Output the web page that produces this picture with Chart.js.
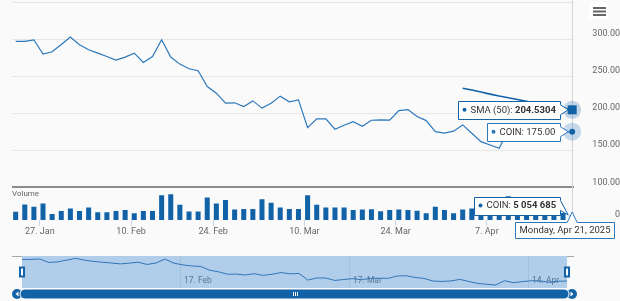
<!DOCTYPE html>
<html>
<head>
<meta charset="utf-8">
<script src="https://cdn.jsdelivr.net/npm/chart.js@4.4.1/dist/chart.umd.min.js"></script>
<style>
  html, body { margin: 0; padding: 0; background: #fafafa; }
  #wrap { position: relative; width: 620px; height: 301px; overflow: hidden; }
  #main { position: absolute; left: 0; top: 0; }
  #nav { position: absolute; left: 0; top: 245px; }
</style>
</head>
<body>
<div id="wrap">
  <canvas id="main" width="620" height="245"></canvas>
  <canvas id="nav" width="620" height="56"></canvas>
</div>
<script>
// ── Data ────────────────────────────────────────────────
const dates = [
  '2025-01-22', '2025-01-23', '2025-01-24', '2025-01-27', '2025-01-28', '2025-01-29', '2025-01-30', '2025-01-31',
  '2025-02-03', '2025-02-04', '2025-02-05', '2025-02-06', '2025-02-07',
  '2025-02-10', '2025-02-11', '2025-02-12', '2025-02-13', '2025-02-14',
  '2025-02-18', '2025-02-19', '2025-02-20', '2025-02-21',
  '2025-02-24', '2025-02-25', '2025-02-26', '2025-02-27', '2025-02-28',
  '2025-03-03', '2025-03-04', '2025-03-05', '2025-03-06', '2025-03-07',
  '2025-03-10', '2025-03-11', '2025-03-12', '2025-03-13', '2025-03-14',
  '2025-03-17', '2025-03-18', '2025-03-19', '2025-03-20', '2025-03-21',
  '2025-03-24', '2025-03-25', '2025-03-26', '2025-03-27', '2025-03-28',
  '2025-03-31', '2025-04-01', '2025-04-02', '2025-04-03', '2025-04-04',
  '2025-04-07', '2025-04-08', '2025-04-09', '2025-04-10', '2025-04-11',
  '2025-04-14', '2025-04-15', '2025-04-16', '2025-04-17',
  '2025-04-21'
];

const coinClose = [
  296.8, 296.8, 299.0, 279.7, 282.8, 292.7, 302.7, 292.3,
  285.5, 281.0, 276.5, 271.6, 275.7,
  281.0, 268.4, 276.5, 299.0, 275.7,
  266.2, 259.9, 257.2, 236.0,
  227.0, 213.5, 214.0, 209.0, 216.6,
  206.8, 213.5, 223.0, 215.3, 218.0,
  180.5, 192.3, 192.3, 178.4, 183.8,
  188.6, 182.4, 190.5, 191.0, 190.5,
  203.5, 204.9, 195.4, 190.0, 175.1,
  173.0, 175.7, 184.2, 173.0, 161.6,
  157.0, 152.7, 177.0, 166.0, 172.0,
  177.0, 176.0, 168.0, 174.0,
  175.00
];

const coinVolume = [
  8300000, 15700000, 13300000, 16700000, 6000000, 9000000, 11700000, 9000000,
  12700000, 7700000, 7700000, 9000000, 10000000,
  6700000, 9000000, 9000000, 25000000, 26000000,
  15500000, 8500000, 8500000, 22700000,
  16700000, 20300000, 10500000, 11200000, 11200000,
  21000000, 17300000, 12500000, 11200000, 11200000,
  25000000, 15300000, 12500000, 12500000, 12500000,
  10000000, 10700000, 10800000, 8800000, 10000000,
  10700000, 10000000, 9300000, 6700000, 13300000,
  10000000, 6700000, 10700000, 11700000, 14000000,
  18000000, 16000000, 24000000, 14000000, 10000000,
  9000000, 7000000, 7500000, 7000000,
  5054685
];

const smaStartDate = '2025-04-02';
const sma50 = [233.7, 231.2, 228.5, 225.7, 223.1, 220.9, 218.4, 215.9, 213.5, 211.3, 209.0, 206.8, 204.5304];

const priceTicks = [100, 150, 200, 250, 300, 350];
const mainTickDates = ['2025-01-27', '2025-02-10', '2025-02-24', '2025-03-10', '2025-03-24', '2025-04-07'];
const mainTickLabels = ['27. Jan', '10. Feb', '24. Feb', '10. Mar', '24. Mar', '7. Apr'];
const navTickDates = ['2025-02-17', '2025-03-17', '2025-04-14'];
const navTickLabels = ['17. Feb', '17. Mar', '14. Apr'];

// ── Helpers ─────────────────────────────────────────────
const BLUE = '#1262a8';
const LINE_BLUE = '#2c78bb';
const FONT = 'Roboto';
const TIP_FONT = '9.5px ' + FONT;

// ticks sit at midnight, a bit left of the daily point
const dayPos = d => dates.findIndex(x => x >= d) - 0.35;
const smaStart = dates.indexOf(smaStartDate);
const last = dates.length - 1;

const fmtVolume = v => Math.round(v).toString().replace(/\B(?=(\d{3})+(?!\d))/g, ' ');

function fmtDate(s) {
  const days = ['Sunday', 'Monday', 'Tuesday', 'Wednesday', 'Thursday', 'Friday', 'Saturday'];
  const months = ['Jan', 'Feb', 'Mar', 'Apr', 'May', 'Jun', 'Jul', 'Aug', 'Sep', 'Oct', 'Nov', 'Dec'];
  const d = new Date(s + 'T12:00:00');
  return `${days[d.getDay()]}, ${months[d.getMonth()]} ${d.getDate()}, ${d.getFullYear()}`;
}

// keep axis label padding from eating into the plot area
function noAxisPadding(s) {
  s.paddingTop = 0;
  s.paddingBottom = 0;
  s.paddingLeft = 0;
  s.paddingRight = 0;
}

function drawSplitTip(ctx, right, cy, parts, color, ax, ay) {
  ctx.save();
  let textW = 0;
  parts.forEach(p => {
    ctx.font = (p.bold ? 'bold ' : '') + TIP_FONT;
    textW += ctx.measureText(p.text).width;
  });
  const h = 18;
  const left = Math.round(right - (12 + textW + 5)) + 0.5;
  const r = Math.round(right) + 0.5;
  const top = Math.round(cy - h / 2) + 0.5;
  ctx.beginPath();
  ctx.moveTo(left, top);
  ctx.lineTo(r, top);
  ctx.lineTo(r, cy - 5);
  ctx.lineTo(ax - 4, ay);
  ctx.lineTo(r, cy + 5);
  ctx.lineTo(r, top + h);
  ctx.lineTo(left, top + h);
  ctx.closePath();
  ctx.fillStyle = '#ffffff';
  ctx.fill();
  ctx.strokeStyle = color;
  ctx.lineWidth = 1;
  ctx.stroke();

  ctx.fillStyle = color;
  ctx.beginPath();
  ctx.arc(left + 6, cy, 2, 0, Math.PI * 2);
  ctx.fill();

  let tx = left + 12;
  ctx.textBaseline = 'middle';
  ctx.fillStyle = '#333333';
  parts.forEach(p => {
    ctx.font = (p.bold ? 'bold ' : '') + TIP_FONT;
    ctx.fillText(p.text, tx, cy + 0.5);
    tx += ctx.measureText(p.text).width;
  });
  ctx.restore();
}

function drawHalo(ctx, x, y, color) {
  ctx.save();
  ctx.fillStyle = color;
  ctx.beginPath();
  ctx.arc(x, y, 9, 0, Math.PI * 2);
  ctx.fill();
  ctx.restore();
}

// ── Main chart overlays ─────────────────────────────────
const overlayPlugin = {
  id: 'overlay',
  beforeDatasetsDraw(chart) {
    const { ctx, chartArea, scales: { x, yv } } = chart;
    const cx = Math.round(x.getPixelForValue(last)) + 0.5;
    ctx.save();
    ctx.strokeStyle = '#d4d4d4';
    ctx.lineWidth = 1;
    ctx.beginPath();
    ctx.moveTo(cx, 0);
    ctx.lineTo(cx, yv.bottom);
    ctx.stroke();

    ctx.fillStyle = '#666666';
    ctx.font = '8px ' + FONT;
    ctx.textBaseline = 'middle';
    ctx.fillText('Volume', chartArea.left, yv.top + 7);
    ctx.restore();
  },
  afterDraw(chart) {
    const { ctx, scales: { x, y, yv } } = chart;
    const lx = x.getPixelForValue(last);
    const smaVal = sma50[sma50.length - 1];
    const smaY = y.getPixelForValue(smaVal);
    const coinY = y.getPixelForValue(coinClose[last]);
    const volY = yv.getPixelForValue(coinVolume[last]);

    // hover markers
    drawHalo(ctx, lx, smaY, 'rgba(26, 98, 168, 0.25)');
    ctx.fillStyle = BLUE;
    ctx.fillRect(lx - 4.5, smaY - 4.5, 9, 9);
    drawHalo(ctx, lx, coinY, 'rgba(44, 120, 187, 0.25)');
    ctx.fillStyle = BLUE;
    ctx.beginPath();
    ctx.arc(lx, coinY, 3, 0, Math.PI * 2);
    ctx.fill();

    // split tooltips
    drawSplitTip(ctx, lx - 12, smaY, [
      { text: 'SMA (50): ', bold: false },
      { text: smaVal.toFixed(4), bold: true }
    ], BLUE, lx, smaY);
    drawSplitTip(ctx, lx - 12, coinY, [
      { text: 'COIN: ' + coinClose[last].toFixed(2), bold: false }
    ], LINE_BLUE, lx, coinY);
    drawSplitTip(ctx, lx - 12, yv.bottom - 14.5, [
      { text: 'COIN: ', bold: false },
      { text: fmtVolume(coinVolume[last]), bold: true }
    ], BLUE, lx, volY);

    // x-axis crosshair label
    ctx.save();
    ctx.font = TIP_FONT;
    const label = fmtDate(dates[last]);
    const w = Math.round(ctx.measureText(label).width + 8);
    const h = 16;
    const left = Math.round(Math.min(lx - w / 2, 614 - w)) + 0.5;
    const top = Math.round(yv.bottom + 2) + 0.5;
    ctx.beginPath();
    ctx.moveTo(left, top);
    ctx.lineTo(lx - 5, top);
    ctx.lineTo(lx, yv.bottom - 8);
    ctx.lineTo(lx + 5, top);
    ctx.lineTo(left + w, top);
    ctx.lineTo(left + w, top + h);
    ctx.lineTo(left, top + h);
    ctx.closePath();
    ctx.fillStyle = '#ffffff';
    ctx.fill();
    ctx.strokeStyle = LINE_BLUE;
    ctx.lineWidth = 1;
    ctx.stroke();
    ctx.fillStyle = '#333333';
    ctx.textAlign = 'center';
    ctx.textBaseline = 'middle';
    ctx.fillText(label, left + w / 2, top + h / 2 + 0.5);
    ctx.restore();

    // context menu button
    ctx.save();
    ctx.fillStyle = '#ffffff';
    ctx.fillRect(589, 2, 19, 17);
    ctx.fillStyle = '#666666';
    [7, 10.5, 14].forEach(yy => ctx.fillRect(593, yy, 13, 2));
    ctx.restore();
  }
};

const mainChart = new Chart(document.getElementById('main'), {
  type: 'line',
  data: {
    datasets: [
      {
        label: 'COIN',
        data: coinClose.map((v, i) => ({ x: i, y: v })),
        borderColor: LINE_BLUE,
        borderWidth: 1.2,
        pointRadius: 0,
        tension: 0,
        yAxisID: 'y'
      },
      {
        label: 'SMA (50)',
        data: sma50.map((v, i) => ({ x: smaStart + i, y: v })),
        borderColor: BLUE,
        borderWidth: 1.6,
        pointRadius: 0,
        tension: 0,
        yAxisID: 'y'
      },
      {
        type: 'bar',
        label: 'Volume',
        data: coinVolume.map((v, i) => ({ x: i, y: v })),
        backgroundColor: BLUE,
        borderWidth: 0,
        barPercentage: 0.55,
        categoryPercentage: 1,
        yAxisID: 'yv'
      }
    ]
  },
  options: {
    responsive: false,
    animation: false,
    events: [],
    layout: { autoPadding: false, padding: { left: 12, top: 2, right: 0, bottom: 0 } },
    plugins: { legend: { display: false }, tooltip: { enabled: false } },
    scales: {
      x: {
        type: 'linear',
        offset: false,
        min: -0.4,
        max: 61.2,
        afterBuildTicks: s => { s.ticks = mainTickDates.map(d => ({ value: dayPos(d) })); },
        afterFit: s => { s.height = 25; noAxisPadding(s); },
        grid: { offset: false, drawOnChartArea: false, drawTicks: true, tickLength: 6, color: '#ccd6eb' },
        border: { display: false },
        ticks: {
          autoSkip: false,
          maxRotation: 0,
          padding: 0,
          color: '#666666',
          font: { family: FONT, size: 9 },
          callback: (v, i) => mainTickLabels[i]
        }
      },
      y: {
        position: 'right',
        stack: 'panes',
        stackWeight: 185.3,
        min: 100,
        max: 350,
        afterBuildTicks: s => { s.ticks = priceTicks.map(v => ({ value: v })); },
        afterFit: s => { s.width = 46; noAxisPadding(s); },
        grid: {
          drawTicks: false,
          color: c => (c.tick && c.tick.value === 100 ? '#8c8c8c' : '#e6e6e6'),
          lineWidth: c => (c.tick && c.tick.value === 100 ? 2 : 1)
        },
        border: { display: false },
        ticks: {
          padding: 2,
          crossAlign: 'far',
          labelOffset: -5,
          color: '#666666',
          font: { family: FONT, size: 9 },
          callback: v => (v === 350 ? '' : v.toFixed(2))
        }
      },
      yv: {
        position: 'right',
        stack: 'panes',
        stackWeight: 32.7,
        min: 0,
        max: 33000000,
        afterBuildTicks: s => { s.ticks = [{ value: 0 }]; },
        afterFit: s => { s.width = 46; noAxisPadding(s); },
        grid: { display: false },
        border: { display: false },
        ticks: {
          padding: 24,
          crossAlign: 'far',
          labelOffset: -5,
          color: '#666666',
          font: { family: FONT, size: 9 },
          callback: v => String(v)
        }
      }
    }
  },
  plugins: [overlayPlugin]
});

// ── Navigator ───────────────────────────────────────────
const navPlugin = {
  id: 'navigator',
  beforeDatasetsDraw(chart) {
    const { ctx, chartArea: a, scales: { x } } = chart;
    ctx.save();
    // grid + labels sit under the mask
    ctx.strokeStyle = '#e6e6e6';
    ctx.lineWidth = 1;
    ctx.fillStyle = '#666666';
    ctx.font = '8.5px ' + FONT;
    ctx.textBaseline = 'middle';
    navTickDates.forEach((d, i) => {
      const px = Math.round(x.getPixelForValue(dayPos(d))) + 0.5;
      ctx.beginPath();
      ctx.moveTo(px, a.top);
      ctx.lineTo(px, a.bottom);
      ctx.stroke();
      ctx.fillText(navTickLabels[i], px + 3.5, a.bottom - 7);
    });
    // selected range mask
    const x0 = x.getPixelForValue(0);
    const x1 = x.getPixelForValue(last);
    ctx.fillStyle = 'rgba(66, 140, 210, 0.4)';
    ctx.fillRect(x0, a.top, x1 - x0, a.bottom - a.top);
    // outline
    ctx.strokeStyle = '#a8a8a8';
    ctx.beginPath();
    ctx.moveTo(a.left, a.top + 0.5);
    ctx.lineTo(x0, a.top + 0.5);
    ctx.moveTo(x1, a.top + 0.5);
    ctx.lineTo(a.right, a.top + 0.5);
    ctx.stroke();
    ctx.restore();
  },
  afterDatasetsDraw(chart) {
    const { ctx, chartArea: a, scales: { x } } = chart;
    const x0 = x.getPixelForValue(0);
    const x1 = x.getPixelForValue(last);
    const midY = (a.top + a.bottom) / 2;
    ctx.save();
    // handles
    [x0, x1].forEach(hx => {
      ctx.fillStyle = BLUE;
      ctx.fillRect(Math.round(hx) - 3, Math.round(midY) - 5.5, 6, 11);
      ctx.fillStyle = '#ffffff';
      ctx.fillRect(Math.round(hx) - 1, Math.round(midY) - 3.5, 2, 7);
    });

    // scrollbar
    const sy = a.bottom + 6;
    const bl = a.left + 5;
    const br = a.right - 2;
    ctx.fillStyle = BLUE;
    [bl, br].forEach(bx => {
      ctx.beginPath();
      ctx.arc(bx, sy, 5, 0, Math.PI * 2);
      ctx.fill();
    });
    ctx.beginPath();
    ctx.roundRect(x0 - 2, sy - 5, x1 - x0 + 4, 10, 5);
    ctx.fillStyle = BLUE;
    ctx.fill();
    ctx.strokeStyle = '#ffffff';
    ctx.lineWidth = 1;
    ctx.stroke();
    ctx.fillStyle = '#ffffff';
    ctx.beginPath();
    ctx.moveTo(bl + 1.5, sy - 2.5); ctx.lineTo(bl - 1.5, sy); ctx.lineTo(bl + 1.5, sy + 2.5);
    ctx.closePath(); ctx.fill();
    ctx.beginPath();
    ctx.moveTo(br - 1.5, sy - 2.5); ctx.lineTo(br + 1.5, sy); ctx.lineTo(br - 1.5, sy + 2.5);
    ctx.closePath(); ctx.fill();
    const gx = Math.round((x0 + x1) / 2);
    [-2, 0, 2].forEach(o => ctx.fillRect(gx + o, sy - 2, 1, 4));
    ctx.restore();
  }
};

const navChart = new Chart(document.getElementById('nav'), {
  type: 'line',
  data: {
    datasets: [{
      data: coinClose.map((v, i) => ({ x: i, y: v })),
      borderColor: '#2f74b5',
      borderWidth: 1,
      pointRadius: 0,
      tension: 0
    }]
  },
  options: {
    responsive: false,
    animation: false,
    events: [],
    layout: { autoPadding: false, padding: { left: 12, right: 46, top: 11, bottom: 13 } },
    plugins: { legend: { display: false }, tooltip: { enabled: false } },
    scales: {
      x: { type: 'linear', display: false, min: -1.12, max: 61.78 },
      y: { display: false, min: 136, max: 316 }
    }
  },
  plugins: [navPlugin]
});
</script>
</body>
</html>
